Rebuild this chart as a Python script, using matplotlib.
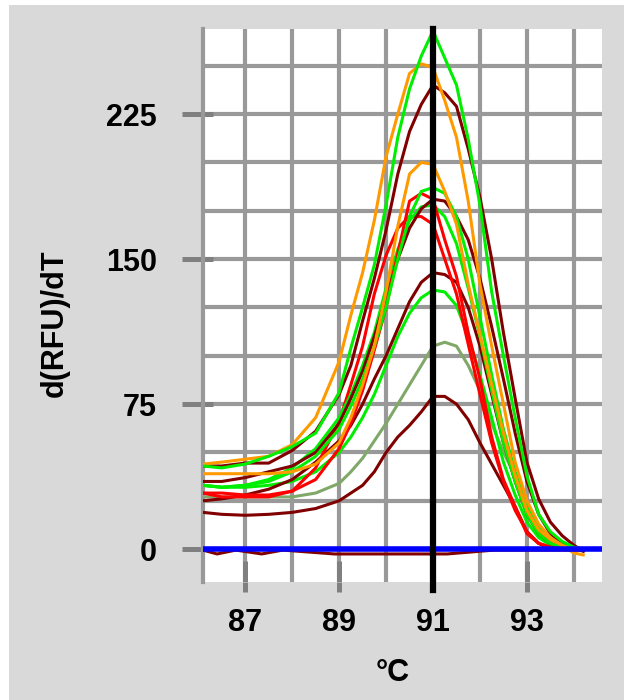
import matplotlib
matplotlib.use("Agg")
import matplotlib.pyplot as plt
import matplotlib.transforms as mtransforms
from matplotlib.patches import Rectangle
from matplotlib.ticker import MultipleLocator

plt.rcParams['font.family'] = ['Liberation Sans', 'DejaVu Sans']

# temperatures (deg C) where the curves were read
temps = [86.1, 86.5, 87, 87.5, 88, 88.5, 89, 89.25, 89.5, 89.75, 90, 90.25, 90.5, 90.75,
         91, 91.25, 91.5, 91.75, 92, 92.25, 92.5, 92.75, 93, 93.25, 93.5, 93.75, 94, 94.2]

# d(RFU)/dT per well
green_1 = [43, 42, 44, 48, 53, 60, 81, 104, 125, 147, 178, 213, 238, 255,
           268, 254, 240, 212, 178, 133, 100, 68, 38, 18, 9, 4, 1, 0]
orange_1 = [44, 45, 46.5, 48, 54, 68, 97, 121, 143, 170, 203, 225, 246, 251,
            249, 232, 213, 180, 137, 105, 75, 45, 25, 13, 6, 2, -2, -3]
maroon_1 = [43, 43, 44.5, 44.5, 51, 61, 80, 95, 118, 140, 165, 194, 216, 230,
            240, 236, 229, 207, 182, 150, 112, 78, 45, 26, 14, 7, 2, -1]
orange_2 = [39, 39, 39, 39, 40, 44, 55, 68, 85, 105, 133, 167, 194, 200,
            199, 185, 168, 137, 111, 85, 60, 38, 20, 10, 5, 2, 0, 0]
green_2 = [33, 32, 33, 35, 40, 48, 62, 74, 88, 105, 125, 150, 172, 185,
           187, 184, 172, 150, 120, 90, 62, 40, 22, 11, 5, 2, 0, 0]
red_1 = [29, 29, 28, 28, 30, 36, 52, 65, 82, 103, 125, 153, 180, 184,
         181, 160, 141, 112, 88, 58, 36, 22, 8, 3, 1, 0, 0, 0]
maroon_2 = [35, 35, 37, 40, 43, 50, 65, 78, 92, 110, 130, 150, 166, 176,
            181, 180, 172, 160, 140, 115, 88, 60, 35, 18, 8, 3, 0, -1]
green_3 = [33, 32, 33, 36, 42, 52, 68, 80, 95, 112, 135, 155, 170, 177,
           178, 172, 158, 135, 110, 82, 55, 35, 18, 8, 3, 1, 0, 0]
red_2 = [29, 27, 27, 27, 30, 42, 66, 85, 105, 132, 152, 166, 172, 172,
         168, 150, 132, 106, 80, 55, 35, 20, 9, 3, 1, 0, 0, 0]
maroon_3 = [25, 26, 28, 31, 36, 45, 56, 64, 75, 88, 100, 114, 128, 138,
            143, 142, 138, 125, 105, 80, 55, 35, 18, 8, 3, 1, 0, 0]
green_4 = [33, 32, 32, 33, 35, 40, 50, 58, 68, 80, 95, 110, 122, 130,
           134, 133, 126, 110, 90, 68, 45, 28, 14, 6, 2, 1, 0, 0]
olive_1 = [27, 27, 27, 27, 27, 29, 34, 40, 47, 56, 65, 75, 85, 95,
           105, 107, 105, 95, 82, 65, 50, 38, 19, 9, 5, 2, 0, 0]
maroon_4 = [19, 18, 17.5, 18, 19, 21, 25, 29, 33, 40, 50, 58, 64, 71,
            79, 79, 75, 67, 55, 44, 33, 22, 9, 3, 0, 0, 0, 0]

# flat negative control just under zero
ntc_temps = [86.1, 86.4, 86.8, 87.35, 87.8, 88.9, 90.9, 91.3, 92.3, 94.2]
ntc_vals = [-0.5, -2.5, -0.5, -2.5, -0.5, -2.5, -2.5, -2.5, -0.5, -0.5]

curves = [
    (maroon_4, "#800000"), (olive_1, "#80a868"), (green_4, "#00ee00"),
    (maroon_3, "#800000"), (red_2, "#ff0000"), (green_3, "#00ee00"),
    (maroon_2, "#800000"), (red_1, "#ff0000"), (green_2, "#00ee00"),
    (orange_2, "#ff9900"), (maroon_1, "#800000"), (orange_1, "#ff9900"),
    (green_1, "#00ee00"),
]

yticks = [0, 75, 150, 225]
xticks = [87, 89, 91, 93]

fig = plt.figure(figsize=(6.24, 7.0), dpi=100, facecolor="white")
bg = Rectangle((9 / 624, 0), 1, 1 - 5 / 700, transform=fig.transFigure,
               facecolor="#d9d9d9", edgecolor="none", zorder=-10)
fig.patches.append(bg)

ax = fig.add_axes([203 / 624, 118 / 700, 399 / 624, 553 / 700])
ax.set_zorder(1)
ax.set_facecolor("white")
ax.set_xlim(86.1, 94.6)
ax.set_ylim(-17, 269)

# grid
ax.xaxis.set_minor_locator(MultipleLocator(1))
ax.yaxis.set_minor_locator(MultipleLocator(25))
ax.xaxis.remove_overlapping_locs = False
ax.yaxis.remove_overlapping_locs = False
ax.grid(which="minor", color="#999999", linewidth=3)
ax.grid(which="major", visible=False)
ax.tick_params(which="minor", length=0)
ax.set_axisbelow(True)

for vals, col in curves:
    ax.plot(temps, vals, color=col, linewidth=2.2, zorder=3)

ax.plot(ntc_temps, ntc_vals, color="#800000", linewidth=2.2, zorder=3)
ax.axhline(0, color="#0000ff", linewidth=4, zorder=4)
ax.plot([91, 91], [-21, 269], color="black", linewidth=4.5, zorder=5, clip_on=False)

for sp in ["top", "right", "bottom"]:
    ax.spines[sp].set_visible(False)
ax.spines["left"].set_color("#999999")
ax.spines["left"].set_linewidth(3)

ax.set_yticks(yticks)
ax.set_xticks(xticks)
ax.set_yticklabels([str(v) for v in yticks])
ax.set_xticklabels([str(v) for v in xticks])
ax.tick_params(axis="y", which="major", direction="out", length=15, width=3.6,
               color="#808080", pad=18, labelsize=22)
ax.tick_params(axis="x", which="major", direction="out", length=7.5, width=3.6,
               color="#808080", pad=11, labelsize=22)
for lab in ax.get_xticklabels() + ax.get_yticklabels():
    lab.set_fontweight("bold")

# inner stubs of the tick marks
ytr = mtransforms.blended_transform_factory(ax.transAxes, ax.transData)
xtr = mtransforms.blended_transform_factory(ax.transData, ax.transAxes)
for v in yticks:
    ax.plot([0, 10 / 399], [v, v], color="#808080", linewidth=3.6, transform=ytr,
            solid_capstyle="butt", zorder=2.5)
for v in xticks:
    ax.plot([v, v], [0, 21 / 553], color="#808080", linewidth=3.6, transform=xtr,
            solid_capstyle="butt", zorder=2.5)

ax.set_xlabel("°C", fontsize=22, fontweight="bold")
ax.xaxis.set_label_coords(0.476, -0.137)
ax.set_ylabel("d(RFU)/dT", fontsize=22, fontweight="bold")
ax.yaxis.set_label_coords(-0.333, 0.468)

fig.savefig("out.png", dpi=100, facecolor=fig.get_facecolor())
